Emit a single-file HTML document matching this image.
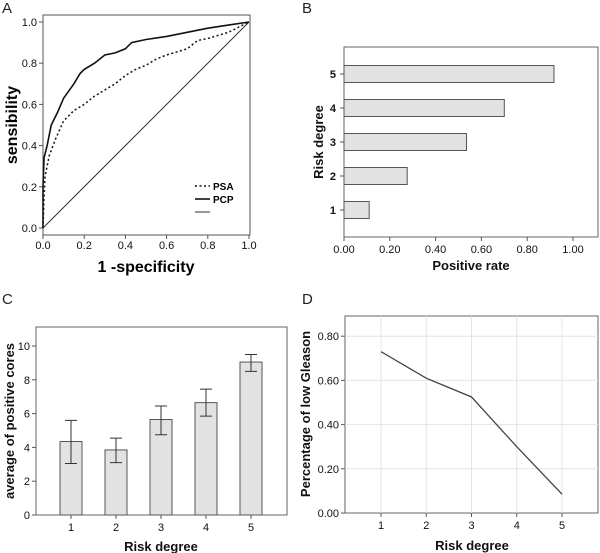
<!DOCTYPE html>
<html><head><meta charset="utf-8"><style>
body{margin:0;background:#fff;}
svg{display:block;font-family:"Liberation Sans",Arial,sans-serif;}
.t{font-size:11px;fill:#111;}
.ttl{font-size:13px;font-weight:bold;fill:#111;}
.lt{font-size:15px;fill:#222;}
</style></head><body>
<svg id="s" width="600" height="553" viewBox="0 0 600 553">
<text x="2" y="13" class="lt">A</text>
<text x="302" y="13" class="lt">B</text>
<text x="2" y="304" class="lt">C</text>
<text x="302" y="304" class="lt">D</text>
</svg>
<script>
// Panel A data
const psaX=[0,0.005,0.01,0.03,0.06,0.1,0.15,0.2,0.25,0.3,0.35,0.4,0.45,0.5,0.55,0.6,0.7,0.75,0.8,0.9,1];
const psaY=[0,0.15,0.25,0.35,0.43,0.52,0.57,0.6,0.64,0.67,0.7,0.74,0.77,0.79,0.82,0.84,0.87,0.91,0.92,0.95,1];
const pcpX=[0,0,0.005,0.02,0.04,0.07,0.1,0.15,0.18,0.2,0.25,0.3,0.35,0.4,0.43,0.5,0.6,0.7,0.8,0.9,1];
const pcpY=[0,0.2,0.34,0.4,0.5,0.56,0.63,0.7,0.75,0.77,0.8,0.84,0.85,0.87,0.9,0.915,0.93,0.95,0.97,0.985,1];
const rocTicks=["0.0","0.2","0.4","0.6","0.8","1.0"];
// Panel B data
const bCats=["1","2","3","4","5"];
const bVals=[0.11,0.276,0.535,0.70,0.917];
const bTicks=["0.00","0.20","0.40","0.60","0.80","1.00"];
// Panel C data
const cCats=["1","2","3","4","5"];
const cVals=[4.35,3.85,5.65,6.65,9.05];
const cLow=[3.05,3.1,4.75,5.85,8.5];
const cHigh=[5.6,4.55,6.45,7.45,9.5];
const cTicks=["0","2","4","6","8","10"];
// Panel D data
const dCats=["1","2","3","4","5"];
const dVals=[0.73,0.61,0.525,0.30,0.085];
const dTicks=["0.00","0.20","0.40","0.60","0.80"];

const S=document.getElementById('s');const NS='http://www.w3.org/2000/svg';
function mk(t,a,txt){const e=document.createElementNS(NS,t);for(const k in a)e.setAttribute(k,a[k]);if(txt!==undefined)e.textContent=txt;S.appendChild(e);return e;}

// ---- Panel A ----
const ax=v=>43+v*206, ay=v=>228-v*206;
let e=mk('rect',{x:43,y:15,width:207,height:220,fill:'none',stroke:'#555','stroke-width':1});

rocTicks.forEach((t,i)=>{const v=i/5;
 e=mk('line',{x1:ax(v),x2:ax(v),y1:235,y2:239,stroke:'#555'});
 e=mk('text',{x:ax(v),y:249,'text-anchor':'middle',class:'t'},t);
 e=mk('line',{x1:39,x2:43,y1:ay(v),y2:ay(v),stroke:'#555'});
 e=mk('text',{x:37,y:ay(v)+4,'text-anchor':'end',class:'t'},t);
});
e=mk('line',{x1:ax(0),y1:ay(0),x2:ax(1),y2:ay(1),stroke:'#333','stroke-width':1});
e=mk('polyline',{points:psaX.map((x,i)=>ax(x)+','+ay(psaY[i])).join(' '),fill:'none',stroke:'#111','stroke-width':1.5,'stroke-dasharray':'2,2.5'});
e=mk('polyline',{points:pcpX.map((x,i)=>ax(x)+','+ay(pcpY[i])).join(' '),fill:'none',stroke:'#111','stroke-width':1.6});
e=mk('line',{x1:195,x2:210,y1:186,y2:186,stroke:'#111','stroke-width':1.5,'stroke-dasharray':'2,2.5'});
e=mk('text',{x:213,y:190,style:'font-size:10px;font-weight:bold'},'PSA');
e=mk('line',{x1:195,x2:210,y1:199,y2:199,stroke:'#111','stroke-width':1.6});
e=mk('text',{x:213,y:203,style:'font-size:10px;font-weight:bold'},'PCP');
e=mk('line',{x1:195,x2:210,y1:212,y2:212,stroke:'#333','stroke-width':1});
e=mk('text',{x:146,y:272,'text-anchor':'middle',style:'font-size:16px;font-weight:bold'},'1 -specificity');
e=mk('text',{x:0,y:0,'text-anchor':'middle',transform:'translate(17,125) rotate(-90)',style:'font-size:16px;font-weight:bold'},'sensibility');

// ---- Panel B ----
const bx=v=>344+v*229, by=i=>210-i*34;
e=mk('rect',{x:344,y:47,width:254,height:190,fill:'none',stroke:'#666'});
bTicks.forEach((t,i)=>{const v=i*0.2;
 e=mk('line',{x1:bx(v),x2:bx(v),y1:237,y2:241,stroke:'#555'});
 e=mk('text',{x:bx(v),y:253,'text-anchor':'middle',class:'t'},t);
});
bCats.forEach((c,i)=>{
 e=mk('rect',{x:344,y:by(i)-8.5,width:bx(bVals[i])-344,height:17,fill:'#e2e2e2',stroke:'#555'});
 e=mk('line',{x1:340,x2:344,y1:by(i),y2:by(i),stroke:'#555'});
 e=mk('text',{x:336,y:by(i)+4,'text-anchor':'end',class:'t',style:'font-weight:bold'},c);
});
e=mk('text',{x:471,y:270,'text-anchor':'middle',class:'ttl'},'Positive rate');
e=mk('text',{x:0,y:0,'text-anchor':'middle',transform:'translate(323,142) rotate(-90)',class:'ttl'},'Risk degree');

// ---- Panel C ----
const cx=i=>71+i*45, cy=v=>515-v*16.9;
e=mk('rect',{x:36,y:327,width:251,height:188,fill:'none',stroke:'#666'});
cTicks.forEach((t,i)=>{const v=i*2;
 e=mk('line',{x1:32,x2:36,y1:cy(v),y2:cy(v),stroke:'#555'});
 e=mk('text',{x:30,y:cy(v)+4,'text-anchor':'end',class:'t'},t);
});
cCats.forEach((c,i)=>{
 e=mk('rect',{x:cx(i)-11,y:cy(cVals[i]),width:22,height:515-cy(cVals[i]),fill:'#e2e2e2',stroke:'#555'});
 e=mk('path',{d:`M${cx(i)-6} ${cy(cHigh[i])}H${cx(i)+6}M${cx(i)} ${cy(cHigh[i])}V${cy(cLow[i])}M${cx(i)-6} ${cy(cLow[i])}H${cx(i)+6}`,stroke:'#333',fill:'none'});
 e=mk('line',{x1:cx(i),x2:cx(i),y1:515,y2:519,stroke:'#555'});
 e=mk('text',{x:cx(i),y:531,'text-anchor':'middle',class:'t'},c);
});
e=mk('text',{x:161,y:551,'text-anchor':'middle',class:'ttl'},'Risk degree');
e=mk('text',{x:0,y:0,'text-anchor':'middle',transform:'translate(14,421) rotate(-90)',class:'ttl'},'average of positive cores');

// ---- Panel D ----
const dx=i=>381+i*45.25, dy=v=>513-v*221;
e=mk('rect',{x:345,y:316,width:253,height:197,fill:'none',stroke:'#666'});
dTicks.forEach((t,i)=>{const v=i*0.2;
 if(i>0){e=mk('line',{x1:345,x2:598,y1:dy(v),y2:dy(v),stroke:'#e4e4e4'});}
 e=mk('line',{x1:341,x2:345,y1:dy(v),y2:dy(v),stroke:'#555'});
 e=mk('text',{x:339,y:dy(v)+4,'text-anchor':'end',class:'t'},t);
});
dCats.forEach((c,i)=>{
 e=mk('line',{x1:dx(i),x2:dx(i),y1:316,y2:513,stroke:'#e4e4e4'});
 e=mk('line',{x1:dx(i),x2:dx(i),y1:513,y2:517,stroke:'#555'});
 e=mk('text',{x:dx(i),y:529,'text-anchor':'middle',class:'t'},c);
});
e=mk('polyline',{points:dVals.map((v,i)=>dx(i)+','+dy(v)).join(' '),fill:'none',stroke:'#444','stroke-width':1.3});
e=mk('text',{x:472,y:550,'text-anchor':'middle',class:'ttl'},'Risk degree');
e=mk('text',{x:0,y:0,'text-anchor':'middle',transform:'translate(310,414) rotate(-90)',class:'ttl'},'Percentage of low Gleason');
</script>
</body></html>
